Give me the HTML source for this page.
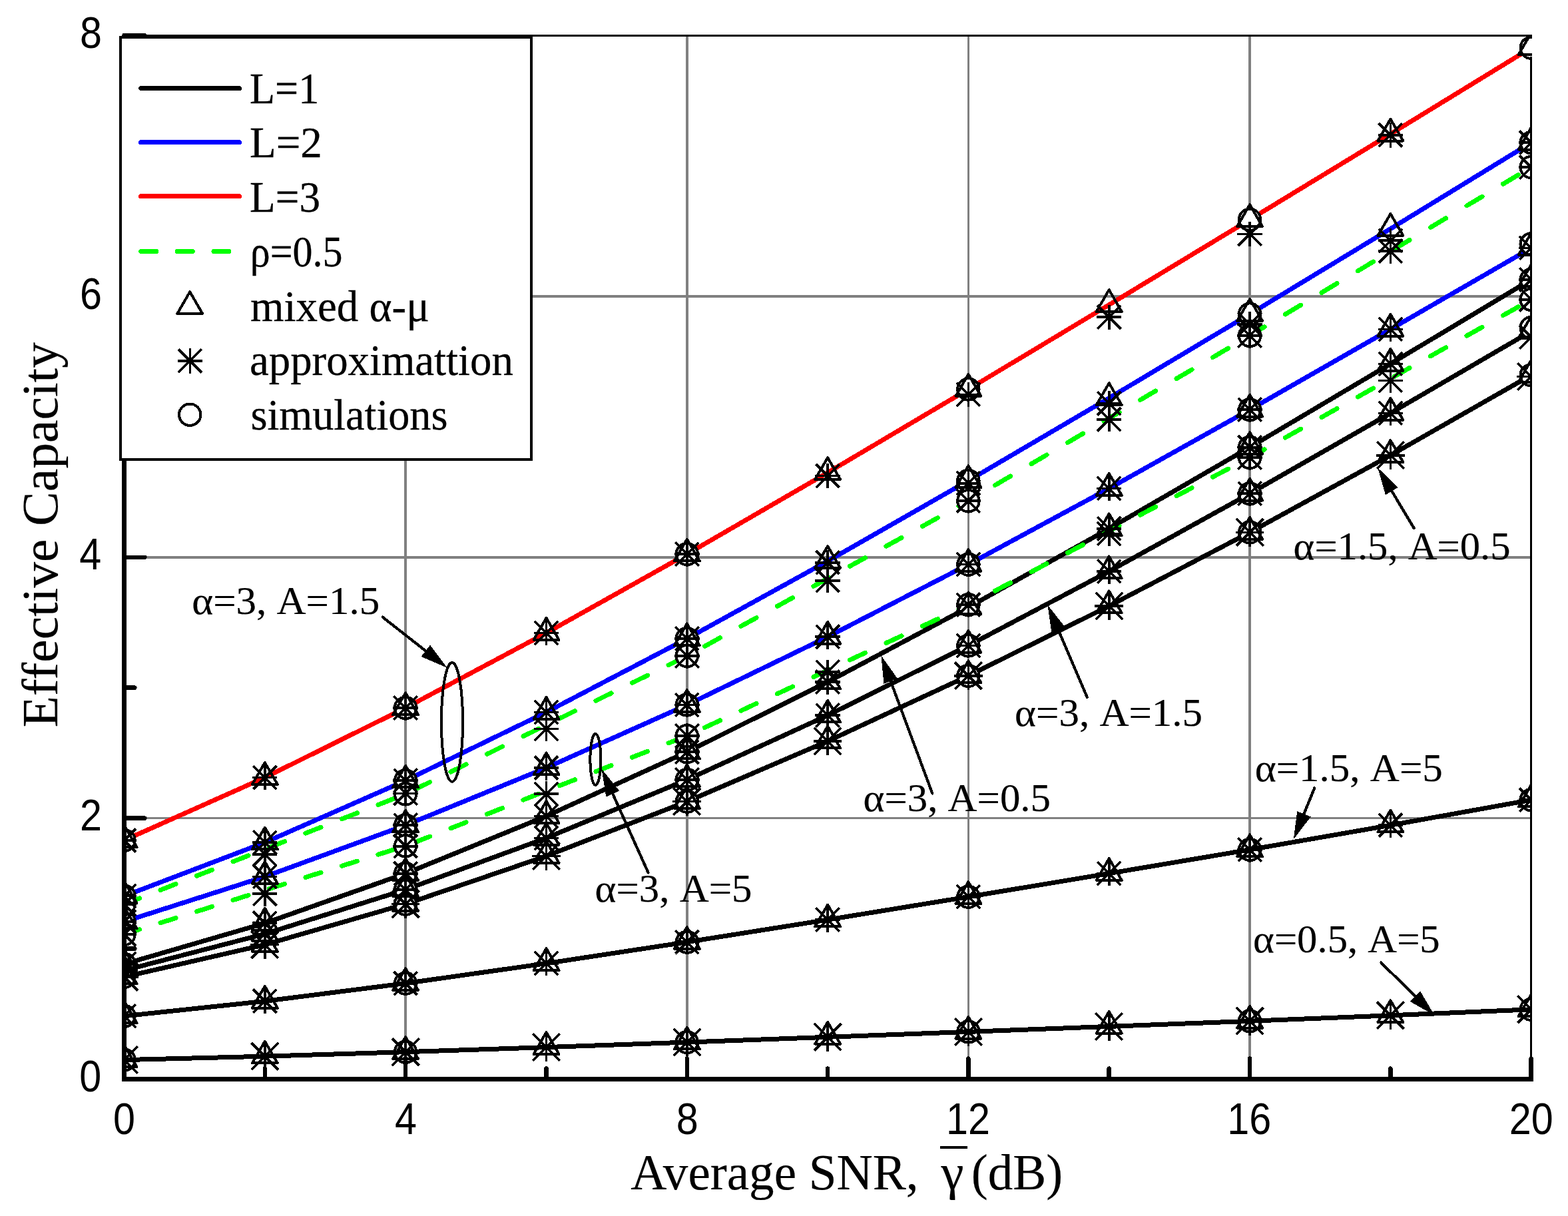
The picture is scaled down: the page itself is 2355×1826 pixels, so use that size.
<!DOCTYPE html>
<html lang="en"><head><meta charset="utf-8"><title>Effective Capacity vs Average SNR</title>
<style>html,body{margin:0;padding:0;background:#fff}body{width:2355px;height:1826px;overflow:hidden}svg{display:block}.ser{font-family:"Liberation Serif","Noto Serif CJK SC",serif;fill:#000;stroke:#000;stroke-width:0.2px}.lg{stroke-width:0.3px}.san{font-family:"Liberation Sans","Noto Sans CJK SC",sans-serif;fill:#000}</style></head><body>
<svg width="2355" height="1826" viewBox="0 0 2355 1826">
<defs>
<clipPath id="cp"><rect x="183.5" y="52" width="2117.5" height="1571.5"/></clipPath>
<g id="tri"><path d="M0,-22.5 L19,10.3 L-19,10.3 Z" fill="none" stroke="#000" stroke-width="4" stroke-linejoin="round"/></g>
<g id="cir"><circle r="16.2" fill="#fff" stroke="#000" stroke-width="4"/></g>
<g id="ast"><path d="M-18.7,0H18.7 M0,-18.7V18.7 M-17.6,-17.6L17.6,17.6 M-17.6,17.6L17.6,-17.6" fill="none" stroke="#000" stroke-width="3.7"/></g>
<g id="as2"><path d="M-21.4,0H21.4 M0,-21.4V21.4 M-20.3,-20.3L20.3,20.3 M-20.3,20.3L20.3,-20.3" fill="none" stroke="#000" stroke-width="3.7"/></g>
</defs>
<rect width="2355" height="1826" fill="#fff"/>
<g stroke="#808080" stroke-width="3.5" shape-rendering="crispEdges">
<line x1="609.1" y1="53" x2="609.1" y2="1620.4"/>
<line x1="1031.8" y1="53" x2="1031.8" y2="1620.4"/>
<line x1="1454.4" y1="53" x2="1454.4" y2="1620.4"/>
<line x1="1877.1" y1="53" x2="1877.1" y2="1620.4"/>
<line x1="186.5" y1="1228.6" x2="2299.7" y2="1228.6"/>
<line x1="186.5" y1="836.8" x2="2299.7" y2="836.8"/>
<line x1="186.5" y1="445" x2="2299.7" y2="445"/>
</g>
<g stroke="#000" stroke-width="3.2" fill="none" shape-rendering="crispEdges">
<line x1="186.5" y1="53.7" x2="2301" y2="53.7"/>
<line x1="2299.4" y1="52.1" x2="2299.4" y2="1620.4"/>
</g>
<g clip-path="url(#cp)" shape-rendering="crispEdges">
<g fill="none" stroke-width="7" stroke-linejoin="round">
<path d="M186.5,1447.7 L397.8,1386.3 L609.1,1311.7 L820.5,1225.5 L1031.8,1129.2 L1243.1,1024.1 L1454.4,911.9 L1665.7,793.9 L1877.1,671.6 L2088.4,546.4 L2299.7,419.9" stroke="#000"/>
<path d="M186.5,1457.2 L397.8,1402.4 L609.1,1335.9 L820.5,1258.4 L1031.8,1170.9 L1243.1,1074.2 L1454.4,969.5 L1665.7,858 L1877.1,741.2 L2088.4,620.4 L2299.7,497.4" stroke="#000"/>
<path d="M186.5,1467 L397.8,1418.6 L609.1,1357.6 L820.5,1285.5 L1031.8,1203.6 L1243.1,1113 L1454.4,1014.8 L1665.7,910 L1877.1,799.4 L2088.4,683.7 L2299.7,563.3" stroke="#000"/>
<path d="M186.5,1345.6 L397.8,1265.1 L609.1,1172.2 L820.5,1069.5 L1031.8,959 L1243.1,842.6 L1454.4,721.8 L1665.7,597.8 L1877.1,471.6 L2088.4,343.6 L2299.7,214.2" stroke="#0000ff"/>
<path d="M186.5,1384 L397.8,1316.4 L609.1,1239.2 L820.5,1153 L1031.8,1058.5 L1243.1,956.3 L1454.4,847.6 L1665.7,733.5 L1877.1,615.2 L2088.4,494.4 L2299.7,372.5" stroke="#0000ff"/>
<path d="M186.5,1261.9 L397.8,1167.6 L609.1,1063 L820.5,950.5 L1031.8,832.1 L1243.1,709.7 L1454.4,584.5 L1665.7,457.7 L1877.1,329.8 L2088.4,201.2 L2299.7,71.8" stroke="#ff0000"/>
</g>
<g fill="none" stroke="#00ff00" stroke-width="7" stroke-linecap="round">
<path d="M186.5,1357.9 L209.5,1348.9 M241,1336.5 L264,1327.5 M295.5,1315.2 L318.5,1306.2 M350,1293.9 L373,1284.8 M404.5,1272.5 L427.5,1263.5 M459,1251.2 L482,1242.2 M513.5,1229.8 L536.5,1220.8 M568,1208.5 L591,1199.5 M622.5,1185.8 L645.5,1174.5 M677,1159.1 L700,1147.8 M731.5,1132.4 L754.5,1121.1 M786,1105.6 L809,1094.3 M840.5,1078.9 L863.5,1067.6 M895,1052.2 L918,1040.9 M949.5,1025.4 L972.5,1014.2 M1004,998.7 L1027,987.4 M1058.5,970.4 L1081.5,957.7 M1113,940.3 L1136,927.7 M1167.5,910.3 L1190.5,897.6 M1222,880.3 L1245,867.6 M1276.5,850.2 L1299.5,837.6 M1331,820.2 L1354,807.5 M1385.5,790.2 L1408.5,777.5 M1440,760.1 L1454.4,752.2 L1463,747.1 M1494.5,728.6 L1517.5,715.1 M1549,696.6 L1572,683.1 M1603.5,664.6 L1626.5,651.1 M1658,632.6 L1681,619.1 M1712.5,600.6 L1735.5,587.1 M1767,568.6 L1790,555.1 M1821.5,536.6 L1844.5,523.1 M1876,504.6 L1877.1,504 L1899,490.8 M1930.5,472 L1953.5,458.2 M1985,439.4 L2008,425.6 M2039.5,406.8 L2062.5,393 M2094,374.1 L2117,360.4 M2148.5,341.5 L2171.5,327.8 M2203,308.9 L2226,295.2 M2257.5,276.3 L2280.5,262.5"/>
<path d="M186.5,1403 L209.5,1395.7 M241,1385.8 L264,1378.6 M295.5,1368.7 L318.5,1361.5 M350,1351.6 L373,1344.4 M404.5,1334.5 L427.5,1327.3 M459,1317.4 L482,1310.2 M513.5,1300.3 L536.5,1293.1 M568,1283.2 L591,1276 M622.5,1265.1 L645.5,1256.1 M677,1243.8 L700,1234.8 M731.5,1222.5 L754.5,1213.5 M786,1201.1 L809,1192.1 M840.5,1179.8 L863.5,1170.8 M895,1158.5 L918,1149.5 M949.5,1137.2 L972.5,1128.2 M1004,1115.9 L1027,1106.9 M1058.5,1092.5 L1081.5,1081.8 M1113,1067.2 L1136,1056.4 M1167.5,1041.8 L1190.5,1031.1 M1222,1016.4 L1245,1005.7 M1276.5,991 L1299.5,980.3 M1331,965.6 L1354,954.9 M1385.5,940.2 L1408.5,929.5 M1440,914.8 L1454.4,908.1 L1463,903.6 M1494.5,887.2 L1517.5,875.1 M1549,858.7 L1572,846.6 M1603.5,830.2 L1626.5,818.1 M1658,801.7 L1681,789.6 M1712.5,773.2 L1735.5,761.1 M1767,744.7 L1790,732.7 M1821.5,716.2 L1844.5,704.2 M1876,687.7 L1877.1,687.1 L1899,674.8 M1930.5,657.1 L1953.5,644.2 M1985,626.5 L2008,613.6 M2039.5,596 L2062.5,583 M2094,565.4 L2117,552.5 M2148.5,534.8 L2171.5,521.9 M2203,504.2 L2226,491.3 M2257.5,473.6 L2280.5,460.7"/>
</g>
<g>
<use href="#cir" x="186.5" y="1261.9"/>
<use href="#cir" x="609.1" y="1063"/>
<use href="#cir" x="1031.8" y="832.1"/>
<use href="#cir" x="1454.4" y="584.5"/>
<use href="#cir" x="1877.1" y="329.8"/>
<use href="#cir" x="2299.7" y="71.8"/>
<use href="#cir" x="186.5" y="1345.6"/>
<use href="#cir" x="609.1" y="1172.2"/>
<use href="#cir" x="1031.8" y="959"/>
<use href="#cir" x="1454.4" y="721.8"/>
<use href="#cir" x="1877.1" y="471.6"/>
<use href="#cir" x="2299.7" y="214.2"/>
<use href="#cir" x="186.5" y="1384"/>
<use href="#cir" x="609.1" y="1239.2"/>
<use href="#cir" x="1031.8" y="1058.5"/>
<use href="#cir" x="1454.4" y="847.6"/>
<use href="#cir" x="1877.1" y="615.2"/>
<use href="#cir" x="2299.7" y="366.4"/>
<use href="#cir" x="186.5" y="1447.7"/>
<use href="#cir" x="609.1" y="1311.7"/>
<use href="#cir" x="1031.8" y="1129.2"/>
<use href="#cir" x="1454.4" y="908.2"/>
<use href="#cir" x="1877.1" y="671.6"/>
<use href="#cir" x="2299.7" y="419.9"/>
<use href="#cir" x="186.5" y="1457.2"/>
<use href="#cir" x="609.1" y="1335.9"/>
<use href="#cir" x="1031.8" y="1170.9"/>
<use href="#cir" x="1454.4" y="969.5"/>
<use href="#cir" x="1877.1" y="741.2"/>
<use href="#cir" x="2299.7" y="492.2"/>
<use href="#cir" x="186.5" y="1467"/>
<use href="#cir" x="609.1" y="1357.6"/>
<use href="#cir" x="1031.8" y="1203.6"/>
<use href="#cir" x="1454.4" y="1014.8"/>
<use href="#cir" x="1877.1" y="799.4"/>
<use href="#cir" x="2299.7" y="563.3"/>
<use href="#cir" x="186.5" y="1525.8"/>
<use href="#cir" x="609.1" y="1476.6"/>
<use href="#cir" x="1031.8" y="1414.6"/>
<use href="#cir" x="1454.4" y="1346.7"/>
<use href="#cir" x="1877.1" y="1275.9"/>
<use href="#cir" x="2299.7" y="1201.2"/>
<use href="#cir" x="186.5" y="1591.6"/>
<use href="#cir" x="609.1" y="1579.7"/>
<use href="#cir" x="1031.8" y="1565.1"/>
<use href="#cir" x="1454.4" y="1549.4"/>
<use href="#cir" x="1877.1" y="1533.3"/>
<use href="#cir" x="2299.7" y="1515.8"/>
<use href="#cir" x="186.5" y="1357.9"/>
<use href="#cir" x="609.1" y="1192.4"/>
<use href="#cir" x="1031.8" y="985.1"/>
<use href="#cir" x="1454.4" y="752.2"/>
<use href="#cir" x="1877.1" y="504"/>
<use href="#cir" x="2299.7" y="251.1"/>
<use href="#cir" x="186.5" y="1403"/>
<use href="#cir" x="609.1" y="1270.3"/>
<use href="#cir" x="1031.8" y="1105"/>
<use href="#cir" x="1454.4" y="908.1"/>
<use href="#cir" x="1877.1" y="687.1"/>
<use href="#cir" x="2299.7" y="449.9"/>
</g>
<g fill="none" stroke-width="7" stroke="#000">
<path d="M186.5,1525.8 L397.8,1503.4 L609.1,1476.6 L820.5,1446.7 L1031.8,1414.6 L1243.1,1381.1 L1454.4,1346.7 L1665.7,1311.6 L1877.1,1275.9 L2088.4,1239.2 L2299.7,1201.2"/>
<path d="M186.5,1591.6 L397.8,1586.2 L609.1,1579.7 L820.5,1572.6 L1031.8,1565.1 L1243.1,1557.3 L1454.4,1549.4 L1665.7,1541.4 L1877.1,1533.3 L2088.4,1524.8 L2299.7,1515.8"/>
</g>
<g>
<use href="#tri" x="186.5" y="1261.9"/>
<use href="#tri" x="397.8" y="1167.6"/>
<use href="#tri" x="609.1" y="1063"/>
<use href="#tri" x="820.5" y="950.5"/>
<use href="#tri" x="1031.8" y="832.1"/>
<use href="#tri" x="1243.1" y="709.7"/>
<use href="#tri" x="1454.4" y="584.5"/>
<use href="#tri" x="1665.7" y="457.7"/>
<use href="#tri" x="1877.1" y="329.8"/>
<use href="#tri" x="2088.4" y="201.2"/>
<use href="#tri" x="2299.7" y="71.8"/>
<use href="#tri" x="186.5" y="1345.6"/>
<use href="#tri" x="397.8" y="1265.1"/>
<use href="#tri" x="609.1" y="1172.2"/>
<use href="#tri" x="820.5" y="1069.5"/>
<use href="#tri" x="1031.8" y="959"/>
<use href="#tri" x="1243.1" y="842.6"/>
<use href="#tri" x="1454.4" y="721.8"/>
<use href="#tri" x="1665.7" y="597.8"/>
<use href="#tri" x="1877.1" y="471.6"/>
<use href="#tri" x="2088.4" y="343.6"/>
<use href="#tri" x="2299.7" y="214.2"/>
<use href="#tri" x="186.5" y="1384"/>
<use href="#tri" x="397.8" y="1316.4"/>
<use href="#tri" x="609.1" y="1239.2"/>
<use href="#tri" x="820.5" y="1153"/>
<use href="#tri" x="1031.8" y="1058.5"/>
<use href="#tri" x="1243.1" y="956.3"/>
<use href="#tri" x="1454.4" y="847.6"/>
<use href="#tri" x="1665.7" y="733.5"/>
<use href="#tri" x="1877.1" y="615.2"/>
<use href="#tri" x="2088.4" y="494.4"/>
<use href="#tri" x="2299.7" y="372.5"/>
<use href="#tri" x="186.5" y="1447.7"/>
<use href="#tri" x="397.8" y="1386.3"/>
<use href="#tri" x="609.1" y="1311.7"/>
<use href="#tri" x="820.5" y="1225.5"/>
<use href="#tri" x="1031.8" y="1129.2"/>
<use href="#tri" x="1243.1" y="1024.1"/>
<use href="#tri" x="1454.4" y="911.9"/>
<use href="#tri" x="1665.7" y="793.9"/>
<use href="#tri" x="1877.1" y="671.6"/>
<use href="#tri" x="2088.4" y="546.4"/>
<use href="#tri" x="2299.7" y="419.9"/>
<use href="#tri" x="186.5" y="1457.2"/>
<use href="#tri" x="397.8" y="1402.4"/>
<use href="#tri" x="609.1" y="1335.9"/>
<use href="#tri" x="820.5" y="1258.4"/>
<use href="#tri" x="1031.8" y="1170.9"/>
<use href="#tri" x="1243.1" y="1074.2"/>
<use href="#tri" x="1454.4" y="969.5"/>
<use href="#tri" x="1665.7" y="858"/>
<use href="#tri" x="1877.1" y="741.2"/>
<use href="#tri" x="2088.4" y="620.4"/>
<use href="#tri" x="2299.7" y="497.4"/>
<use href="#tri" x="186.5" y="1467"/>
<use href="#tri" x="397.8" y="1418.6"/>
<use href="#tri" x="609.1" y="1357.6"/>
<use href="#tri" x="820.5" y="1285.5"/>
<use href="#tri" x="1031.8" y="1203.6"/>
<use href="#tri" x="1243.1" y="1113"/>
<use href="#tri" x="1454.4" y="1014.8"/>
<use href="#tri" x="1665.7" y="910"/>
<use href="#tri" x="1877.1" y="799.4"/>
<use href="#tri" x="2088.4" y="683.7"/>
<use href="#tri" x="2299.7" y="563.3"/>
<use href="#tri" x="186.5" y="1525.8"/>
<use href="#tri" x="397.8" y="1503.4"/>
<use href="#tri" x="609.1" y="1476.6"/>
<use href="#tri" x="820.5" y="1446.7"/>
<use href="#tri" x="1031.8" y="1414.6"/>
<use href="#tri" x="1243.1" y="1381.1"/>
<use href="#tri" x="1454.4" y="1346.7"/>
<use href="#tri" x="1665.7" y="1311.6"/>
<use href="#tri" x="1877.1" y="1275.9"/>
<use href="#tri" x="2088.4" y="1239.2"/>
<use href="#tri" x="2299.7" y="1201.2"/>
<use href="#tri" x="186.5" y="1591.6"/>
<use href="#tri" x="397.8" y="1586.2"/>
<use href="#tri" x="609.1" y="1579.7"/>
<use href="#tri" x="820.5" y="1572.6"/>
<use href="#tri" x="1031.8" y="1565.1"/>
<use href="#tri" x="1243.1" y="1557.3"/>
<use href="#tri" x="1454.4" y="1549.4"/>
<use href="#tri" x="1665.7" y="1541.4"/>
<use href="#tri" x="1877.1" y="1533.3"/>
<use href="#tri" x="2088.4" y="1524.8"/>
<use href="#tri" x="2299.7" y="1515.8"/>
</g><g>
<use href="#ast" x="186.5" y="1261.9"/>
<use href="#ast" x="397.8" y="1167.6"/>
<use href="#ast" x="609.1" y="1063"/>
<use href="#ast" x="820.5" y="950.5"/>
<use href="#ast" x="1031.8" y="832.1"/>
<use href="#ast" x="1243.1" y="714.6"/>
<use href="#ast" x="1454.4" y="592.4"/>
<use href="#ast" x="1665.7" y="476.3"/>
<use href="#ast" x="1877.1" y="351.4"/>
<use href="#ast" x="2088.4" y="202.8"/>
<use href="#ast" x="186.5" y="1345.6"/>
<use href="#ast" x="397.8" y="1265.1"/>
<use href="#ast" x="609.1" y="1172.2"/>
<use href="#ast" x="820.5" y="1069.5"/>
<use href="#ast" x="1031.8" y="959"/>
<use href="#ast" x="1243.1" y="844.7"/>
<use href="#ast" x="1454.4" y="725.7"/>
<use href="#ast" x="1665.7" y="605.7"/>
<use href="#ast" x="1877.1" y="486.9"/>
<use href="#ast" x="2088.4" y="361.3"/>
<use href="#ast" x="2299.7" y="214.2"/>
<use href="#ast" x="186.5" y="1357.9"/>
<use href="#ast" x="397.8" y="1282.7"/>
<use href="#ast" x="609.1" y="1191.4"/>
<use href="#ast" x="820.5" y="1094.6"/>
<use href="#ast" x="1031.8" y="985.1"/>
<use href="#ast" x="1243.1" y="871.7"/>
<use href="#ast" x="1454.4" y="752.2"/>
<use href="#ast" x="1665.7" y="629.7"/>
<use href="#ast" x="1877.1" y="504"/>
<use href="#ast" x="2088.4" y="377.2"/>
<use href="#ast" x="2299.7" y="251.1"/>
<use href="#ast" x="186.5" y="1384"/>
<use href="#ast" x="397.8" y="1316.4"/>
<use href="#ast" x="609.1" y="1239.2"/>
<use href="#ast" x="820.5" y="1153"/>
<use href="#ast" x="1031.8" y="1058.5"/>
<use href="#ast" x="1243.1" y="956.3"/>
<use href="#ast" x="1454.4" y="847.6"/>
<use href="#ast" x="1665.7" y="733.5"/>
<use href="#ast" x="1877.1" y="615.2"/>
<use href="#ast" x="2088.4" y="494.4"/>
<use href="#ast" x="2299.7" y="372.5"/>
<use href="#ast" x="186.5" y="1403"/>
<use href="#ast" x="397.8" y="1342.2"/>
<use href="#ast" x="609.1" y="1270.7"/>
<use href="#ast" x="820.5" y="1192.2"/>
<use href="#ast" x="1031.8" y="1105"/>
<use href="#ast" x="1243.1" y="1009.2"/>
<use href="#ast" x="1454.4" y="908.1"/>
<use href="#ast" x="1665.7" y="801.5"/>
<use href="#ast" x="1877.1" y="687.1"/>
<use href="#ast" x="2088.4" y="571.4"/>
<use href="#ast" x="2299.7" y="449.9"/>
<use href="#ast" x="186.5" y="1447.7"/>
<use href="#ast" x="397.8" y="1386.3"/>
<use href="#ast" x="609.1" y="1311.7"/>
<use href="#ast" x="820.5" y="1225.5"/>
<use href="#ast" x="1031.8" y="1129.2"/>
<use href="#ast" x="1243.1" y="1024.1"/>
<use href="#ast" x="1454.4" y="908.2"/>
<use href="#ast" x="1665.7" y="793.9"/>
<use href="#ast" x="1877.1" y="671.6"/>
<use href="#ast" x="2088.4" y="546.4"/>
<use href="#ast" x="2299.7" y="419.9"/>
<use href="#ast" x="186.5" y="1457.2"/>
<use href="#ast" x="397.8" y="1402.4"/>
<use href="#ast" x="609.1" y="1335.9"/>
<use href="#ast" x="820.5" y="1258.4"/>
<use href="#ast" x="1031.8" y="1170.9"/>
<use href="#ast" x="1243.1" y="1074.2"/>
<use href="#ast" x="1454.4" y="969.5"/>
<use href="#ast" x="1665.7" y="858"/>
<use href="#ast" x="1877.1" y="741.2"/>
<use href="#ast" x="2088.4" y="620.4"/>
<use href="#ast" x="2299.7" y="506.3"/>
<use href="#as2" x="186.5" y="1467"/>
<use href="#as2" x="397.8" y="1418.6"/>
<use href="#as2" x="609.1" y="1357.6"/>
<use href="#as2" x="820.5" y="1285.5"/>
<use href="#as2" x="1031.8" y="1203.6"/>
<use href="#as2" x="1243.1" y="1113"/>
<use href="#as2" x="1454.4" y="1014.8"/>
<use href="#as2" x="1665.7" y="910"/>
<use href="#as2" x="1877.1" y="799.4"/>
<use href="#as2" x="2088.4" y="683.7"/>
<use href="#as2" x="2299.7" y="565.5"/>
<use href="#ast" x="186.5" y="1525.8"/>
<use href="#ast" x="397.8" y="1503.4"/>
<use href="#ast" x="609.1" y="1476.6"/>
<use href="#ast" x="820.5" y="1446.7"/>
<use href="#ast" x="1031.8" y="1414.6"/>
<use href="#ast" x="1243.1" y="1381.1"/>
<use href="#ast" x="1454.4" y="1346.7"/>
<use href="#ast" x="1665.7" y="1311.6"/>
<use href="#ast" x="1877.1" y="1275.9"/>
<use href="#ast" x="2088.4" y="1239.2"/>
<use href="#ast" x="2299.7" y="1201.2"/>
<use href="#as2" x="186.5" y="1591.6"/>
<use href="#as2" x="397.8" y="1586.2"/>
<use href="#as2" x="609.1" y="1579.7"/>
<use href="#as2" x="820.5" y="1572.6"/>
<use href="#as2" x="1031.8" y="1565.1"/>
<use href="#as2" x="1243.1" y="1557.3"/>
<use href="#as2" x="1454.4" y="1549.4"/>
<use href="#as2" x="1665.7" y="1541.4"/>
<use href="#as2" x="1877.1" y="1533.3"/>
<use href="#as2" x="2088.4" y="1524.8"/>
<use href="#as2" x="2299.7" y="1515.8"/>
</g>
</g>
<line x1="2299.4" y1="85" x2="2299.4" y2="1620.4" stroke="#000" stroke-width="3.2" shape-rendering="crispEdges"/>
<g stroke="#000" fill="none" shape-rendering="crispEdges">
<line x1="186.5" y1="52.1" x2="186.5" y2="1623.7" stroke-width="6.6"/>
<line x1="183.2" y1="1620.4" x2="2302.7" y2="1620.4" stroke-width="6.6"/>
</g>
<g stroke="#000" fill="none" stroke-width="6.5" stroke-linecap="round" shape-rendering="crispEdges">
<line x1="186.5" y1="1620.4" x2="186.5" y2="1589.6"/>
<line x1="397.8" y1="1620.4" x2="397.8" y2="1604.6"/>
<line x1="609.1" y1="1620.4" x2="609.1" y2="1589.6"/>
<line x1="820.5" y1="1620.4" x2="820.5" y2="1604.6"/>
<line x1="1031.8" y1="1620.4" x2="1031.8" y2="1589.6"/>
<line x1="1243.1" y1="1620.4" x2="1243.1" y2="1604.6"/>
<line x1="1454.4" y1="1620.4" x2="1454.4" y2="1589.6"/>
<line x1="1665.7" y1="1620.4" x2="1665.7" y2="1604.6"/>
<line x1="1877.1" y1="1620.4" x2="1877.1" y2="1589.6"/>
<line x1="2088.4" y1="1620.4" x2="2088.4" y2="1604.6"/>
<line x1="2299.7" y1="1620.4" x2="2299.7" y2="1589.6"/>
<line x1="186.5" y1="1620.4" x2="217.3" y2="1620.4"/>
<line x1="186.5" y1="1424.5" x2="202.3" y2="1424.5"/>
<line x1="186.5" y1="1228.6" x2="217.3" y2="1228.6"/>
<line x1="186.5" y1="1032.7" x2="202.3" y2="1032.7"/>
<line x1="186.5" y1="836.8" x2="217.3" y2="836.8"/>
<line x1="186.5" y1="640.9" x2="202.3" y2="640.9"/>
<line x1="186.5" y1="445" x2="217.3" y2="445"/>
<line x1="186.5" y1="249.1" x2="202.3" y2="249.1"/>
<line x1="186.5" y1="53.2" x2="217.3" y2="53.2"/>
</g>
<g stroke="#000" fill="none" stroke-width="4" shape-rendering="crispEdges">
<ellipse cx="679" cy="1084.3" rx="16.1" ry="89.5"/>
<ellipse cx="894.4" cy="1140.4" rx="8" ry="38.6"/>
</g>
<g stroke="#000" fill="#000" shape-rendering="crispEdges">
<line x1="574.7" y1="926.7" x2="640.8" y2="978.6" stroke-width="4.2" stroke-linecap="round"/>
<polygon points="671.5,1002.7 632.5,986 646,968.7" stroke="none"/>
<line x1="973.6" y1="1310.4" x2="919.5" y2="1190.3" stroke-width="4.2" stroke-linecap="round"/>
<polygon points="903.5,1154.7 930.4,1187.6 910.3,1196.6" stroke="none"/>
<line x1="1400.3" y1="1191.4" x2="1337" y2="1021" stroke-width="4.2" stroke-linecap="round"/>
<polygon points="1323.4,984.4 1348,1019 1327.4,1026.7" stroke="none"/>
<line x1="1632.9" y1="1047.1" x2="1588.8" y2="944.2" stroke-width="4.2" stroke-linecap="round"/>
<polygon points="1573.4,908.4 1599.7,941.7 1579.5,950.4" stroke="none"/>
<line x1="2123.6" y1="793" x2="2089.3" y2="735.7" stroke-width="4.2" stroke-linecap="round"/>
<polygon points="2069.2,702.3 2099.7,731.8 2080.9,743.1" stroke="none"/>
<line x1="1974.3" y1="1183.3" x2="1957.6" y2="1224.2" stroke-width="4.2" stroke-linecap="round"/>
<polygon points="1942.9,1260.3 1948.2,1218.2 1968.6,1226.5" stroke="none"/>
<line x1="2074.3" y1="1445.5" x2="2126.7" y2="1497.3" stroke-width="4.2" stroke-linecap="round"/>
<polygon points="2154.4,1524.7 2117.5,1503.7 2133,1488.1" stroke="none"/>
</g>
<g shape-rendering="crispEdges">
<rect x="181" y="55.7" width="617" height="634.3" fill="#fff" stroke="#000" stroke-width="4"/>
<g fill="none" stroke-width="7" stroke-linecap="round">
<line x1="211.6" y1="132.5" x2="359.5" y2="132.5" stroke="#000"/>
<line x1="211.6" y1="213.7" x2="359.5" y2="213.7" stroke="#0000ff"/>
<line x1="211.6" y1="294.8" x2="359.5" y2="294.8" stroke="#ff0000"/>
<path d="M211.6,377.5h23 M266.3,377.5h23 M320.9,377.5h23" stroke="#00ff00"/>
</g>
<use href="#tri" x="285.2" y="460.8"/>
<use href="#ast" x="285.4" y="541.9"/>
<circle cx="285.2" cy="622.7" r="16.2" fill="none" stroke="#000" stroke-width="4"/>
</g>
<line x1="186.5" y1="53.2" x2="217.3" y2="53.2" stroke="#000" stroke-width="6.5" stroke-linecap="round" shape-rendering="crispEdges"/>
<text id="lg0" class="ser lg" font-size="66" transform="translate(375.1 154.8) scale(0.9419 1)">L=1</text>
<text id="lg1" class="ser lg" font-size="66" transform="translate(375 236.4) scale(0.9848 1)">L=2</text>
<text id="lg2" class="ser lg" font-size="66" transform="translate(375.1 318) scale(0.9585 1)">L=3</text>
<text id="lg3" class="ser lg" font-size="66" transform="translate(375.7 399.6) scale(0.9096 1)">ρ=0.5</text>
<text id="lg4" class="ser lg" font-size="66" transform="translate(376 481.6) scale(0.9844 1)">mixed α-μ</text>
<text id="lg5" class="ser lg" font-size="66" transform="translate(375 563.3) scale(0.9820 1)">approximattion</text>
<text id="lg6" class="ser lg" font-size="66" transform="translate(376.4 644.5) scale(0.9726 1)">simulations</text>
<text id="an0" class="ser" font-size="59" transform="translate(288.2 922.1) scale(1.0340 1)">α=3, A=1.5</text>
<text id="an1" class="ser" font-size="59" transform="translate(893.6 1354.2) scale(1.0326 1)">α=3, A=5</text>
<text id="an2" class="ser" font-size="59" transform="translate(1296.5 1217.9) scale(1.0321 1)">α=3, A=0.5</text>
<text id="an3" class="ser" font-size="59" transform="translate(1524.1 1089.7) scale(1.0336 1)">α=3, A=1.5</text>
<text id="an4" class="ser" font-size="59" transform="translate(1942.6 839.9) scale(1.0284 1)">α=1.5, A=0.5</text>
<text id="an5" class="ser" font-size="59" transform="translate(1884.7 1173.1) scale(1.0343 1)">α=1.5, A=5</text>
<text id="an6" class="ser" font-size="59" transform="translate(1882.1 1429.5) scale(1.0287 1)">α=0.5, A=5</text>
<text id="xt0" class="san" font-size="67" transform="translate(170 1703.3) scale(0.8850 1)">0</text>
<text id="xt4" class="san" font-size="67" transform="translate(593.1 1703.3) scale(0.8850 1)">4</text>
<text id="xt8" class="san" font-size="67" transform="translate(1015.7 1703.3) scale(0.8850 1)">8</text>
<text id="xt12" class="san" font-size="67" transform="translate(1421.1 1703.3) scale(0.8850 1)">12</text>
<text id="xt16" class="san" font-size="67" transform="translate(1843.3 1703.3) scale(0.8850 1)">16</text>
<text id="xt20" class="san" font-size="67" transform="translate(2266.8 1703.3) scale(0.8850 1)">20</text>
<text id="yt0" class="san" font-size="67" transform="translate(119.2 1638.9) scale(0.8850 1)">0</text>
<text id="yt2" class="san" font-size="67" transform="translate(120.1 1247.1) scale(0.8850 1)">2</text>
<text id="yt4" class="san" font-size="67" transform="translate(119.2 855.3) scale(0.8850 1)">4</text>
<text id="yt6" class="san" font-size="67" transform="translate(120.1 463.5) scale(0.8850 1)">6</text>
<text id="yt8" class="san" font-size="67" transform="translate(120.1 71.7) scale(0.8850 1)">8</text>
<text id="xl1" class="ser" font-size="77" transform="translate(947.2 1785.5) scale(0.9755 1)">Average SNR,</text>
<text id="xl2" class="ser" font-size="77" transform="translate(1413.6 1785.5) scale(1.0000 1)">γ</text>
<text id="xl3" class="ser" font-size="77" transform="translate(1458.8 1785.5) scale(0.9733 1)">(dB)</text>
<text id="yl" class="ser" font-size="77" transform="translate(86.4 1092.6) rotate(-90) scale(1.0088 1)">Effective Capacity</text>
<rect x="1412" y="1721.4" width="40.8" height="3.2" fill="#000" shape-rendering="crispEdges"/>
</svg></body></html>
